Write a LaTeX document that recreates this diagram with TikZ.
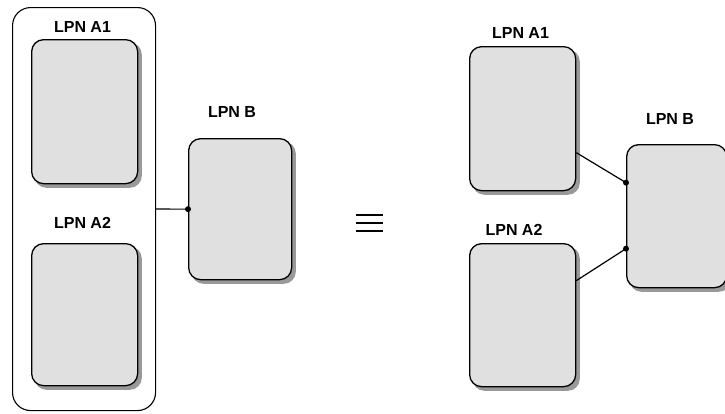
\documentclass[tikz,border=0pt]{standalone}
\usepackage{fontspec}
\setmainfont{Liberation Sans}
\pgfdeclarelayer{shad}
\pgfsetlayers{shad,main}
\begin{document}
\begin{tikzpicture}[x=1pt,y=-1pt,
  lpn/.style={draw=black, line width=1.3pt, fill=gray!24, rounded corners=12pt,
    inner sep=0pt, anchor=north west},
  shadowbox/.style={fill=gray!80, rounded corners=12pt},
  outerbox/.style={draw=black, line width=1.1pt, rounded corners=18pt,
    inner sep=0pt, anchor=north west},
  lbl/.style={font=\fontsize{16}{18}\selectfont\bfseries, inner sep=0pt},
  conn/.style={line width=1.2pt},
  pt/.style={fill=black}
]
\useasboundingbox (0,0) rectangle (725,413);
% left group
\node[outerbox, minimum width=143pt, minimum height=403pt] (outer) at (12,7) {};
\node[lpn, minimum width=106pt, minimum height=144pt] (lA1) at (31,39) {};
\node[lpn, minimum width=106pt, minimum height=142pt] (lA2) at (31,243) {};
\node[lpn, minimum width=103pt, minimum height=141pt] (lB) at (188,138) {};
\node[lbl] (tlA1) at (82.5,26.5) {LPN A1};
\node[lbl] (tlA2) at (82.5,223) {LPN A2};
\node[lbl] (tlB) at (232,112) {LPN B};
\draw[conn] (outer.east) -- (lB.west);
\fill[pt] (lB.west) circle (3pt);
% equivalence
\coordinate (e1) at (356,215);
\coordinate (e1b) at (383,215);
\coordinate (e2) at (356,223);
\coordinate (e2b) at (383,223);
\coordinate (e3) at (356,230.7);
\coordinate (e3b) at (383,230.7);
\draw[line width=1.6pt] (e1) -- (e1b) (e2) -- (e2b) (e3) -- (e3b);
% right group
\node[lpn, minimum width=106pt, minimum height=144pt] (rA1) at (469,46) {};
\node[lpn, minimum width=106pt, minimum height=143pt] (rA2) at (469,243) {};
\node[lpn, minimum width=100pt, minimum height=143pt] (rB) at (626,144) {};
\node[lbl] (trA1) at (520.5,33) {LPN A1};
\node[lbl] (trA2) at (514,229.5) {LPN A2};
\node[lbl] (trB) at (670,119) {LPN B};
\coordinate (rB1) at ([yshift=33.5pt]rB.west);
\coordinate (rB2) at ([yshift=-32.5pt]rB.west);
\draw[conn] ([yshift=-34pt]rA1.east) -- (rB1);
\draw[conn] ([yshift=34.5pt]rA2.east) -- (rB2);
\fill[pt] (rB1) circle (3pt);
\fill[pt] (rB2) circle (3pt);
% shadows
\begin{pgfonlayer}{shad}
\foreach \n in {lA1,lA2,lB,rA1,rA2,rB}{
  \fill[shadowbox] ([shift={(3.5,3.5)}]\n.north west) rectangle ([shift={(3.5,3.5)}]\n.south east);
}
\end{pgfonlayer}
\end{tikzpicture}
\end{document}
